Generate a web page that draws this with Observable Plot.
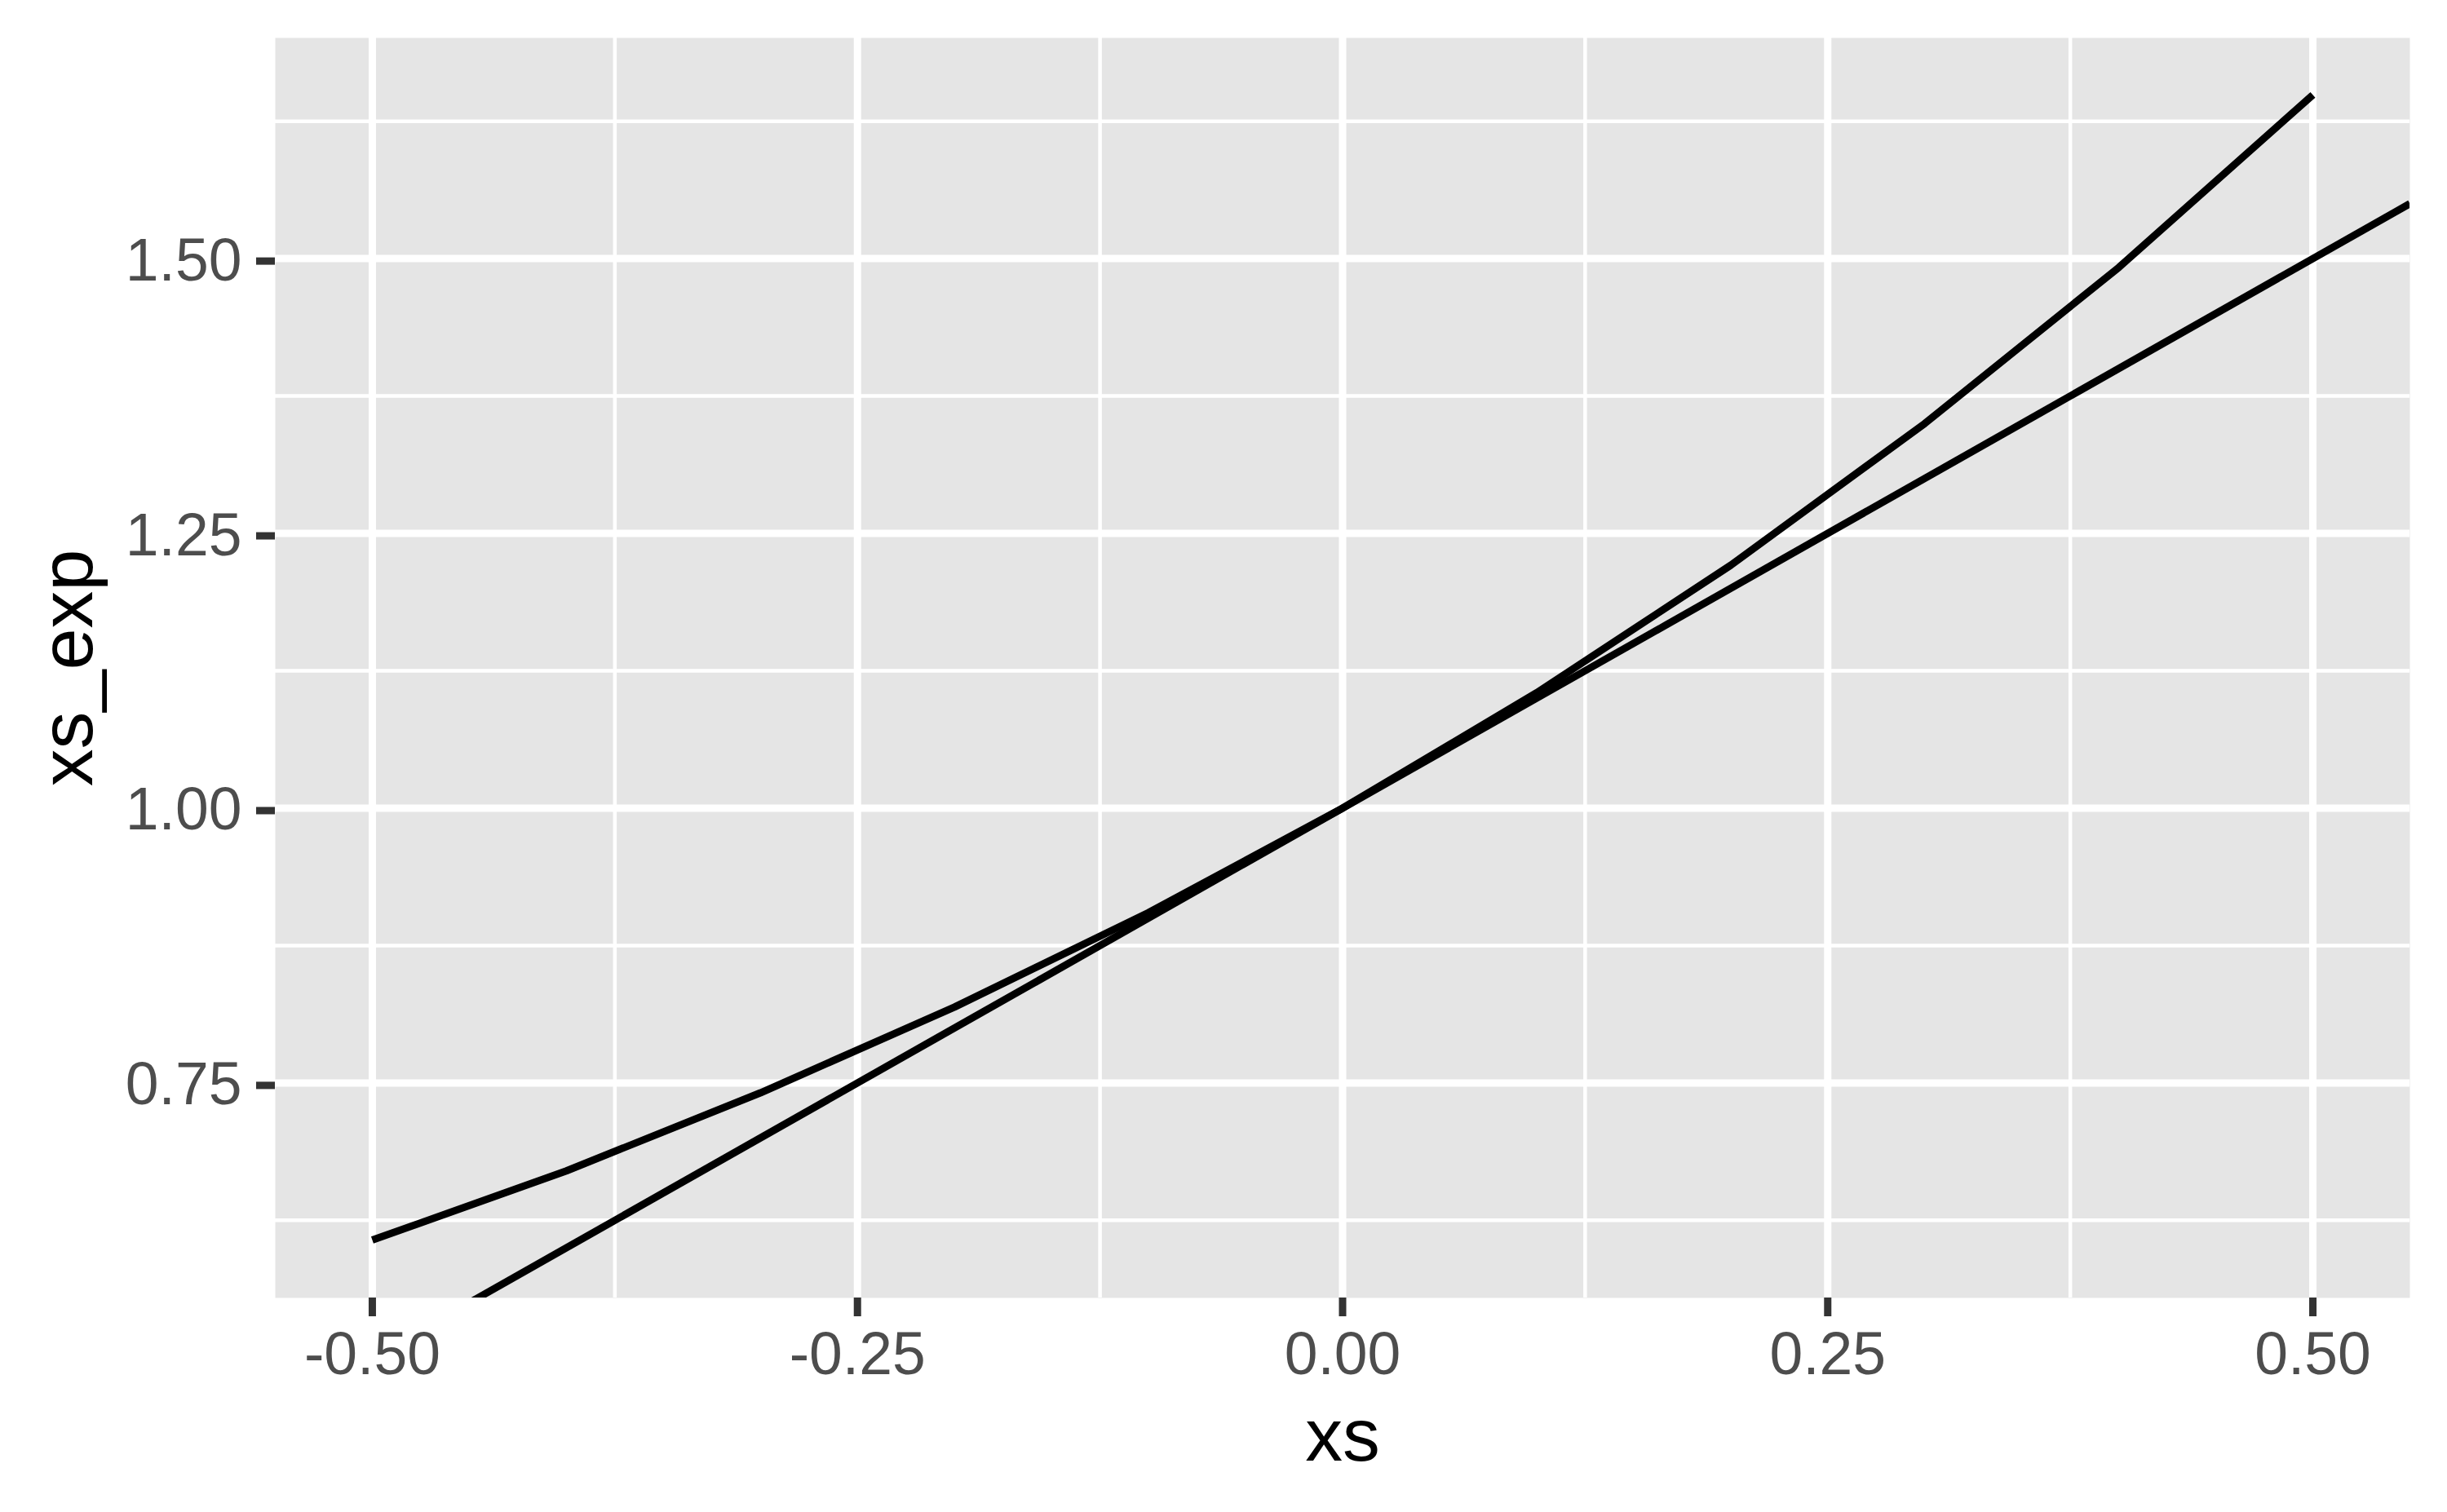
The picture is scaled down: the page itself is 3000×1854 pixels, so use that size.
<!DOCTYPE html>
<html>
<head>
<meta charset="utf-8">
<script src="https://cdn.jsdelivr.net/npm/d3@7"></script>
<script src="https://cdn.jsdelivr.net/npm/@observablehq/plot@0.6"></script>
<style>
  html, body { margin: 0; padding: 0; background: #ffffff; }
  #chart svg { display: block; }
</style>
</head>
<body>
<div id="chart"></div>
<script>
// data
const xs = [-0.5, -0.4, -0.3, -0.2, -0.1, 0.0, 0.1, 0.2, 0.3, 0.4, 0.5];
const xs_exp = [0.607, 0.670, 0.741, 0.819, 0.905, 1.000, 1.105, 1.221, 1.350, 1.492, 1.649];
const ablineIntercept = 1;
const ablineSlope = 1;

const xMajor = [-0.5, -0.25, 0, 0.25, 0.5];
const xMinor = [-0.375, -0.125, 0.125, 0.375];
const yMajor = [0.75, 1.0, 1.25, 1.5];
const yMinor = [0.625, 0.875, 1.125, 1.375, 1.625];

const xDomain = [-0.55, 0.55];
const yDomain = [0.5544, 1.7008];

const expData = xs.map((x, i) => ({x, y: xs_exp[i]}));
const ablineData = xDomain.map(x => ({x, y: ablineIntercept + ablineSlope * x}));

const fmt = d => d.toFixed(2);
const font = "'Liberation Sans', Arial, Helvetica, sans-serif";

const plot = Plot.plot({
  width: 3000,
  height: 1854,
  marginLeft: 337,
  marginRight: 46,
  marginTop: 46,
  marginBottom: 263,
  style: {fontFamily: font, background: "#ffffff"},
  x: {domain: xDomain},
  y: {domain: yDomain},
  marks: [
    Plot.frame({fill: "#E5E5E5", stroke: null}),
    Plot.gridX(xMinor, {stroke: "#ffffff", strokeOpacity: 1, strokeWidth: 4.5}),
    Plot.gridY(yMinor, {stroke: "#ffffff", strokeOpacity: 1, strokeWidth: 4.5}),
    Plot.gridX(xMajor, {stroke: "#ffffff", strokeOpacity: 1, strokeWidth: 9}),
    Plot.gridY(yMajor, {stroke: "#ffffff", strokeOpacity: 1, strokeWidth: 9}),
    Plot.line(ablineData, {x: "x", y: "y", stroke: "#000000", strokeWidth: 9, strokeLinecap: "butt", clip: true}),
    Plot.line(expData, {x: "x", y: "y", stroke: "#000000", strokeWidth: 9, strokeLinecap: "butt", strokeLinejoin: "round", clip: true}),
    Plot.axisX(xMajor, {tickSize: 23, tickPadding: 18, tickFormat: fmt, fontSize: 73.3, fill: "#4D4D4D", stroke: "#333333", strokeWidth: 9, label: null}),
    Plot.axisY(yMajor, {tickSize: 23, tickPadding: 18, tickFormat: fmt, fontSize: 73.3, fill: "#4D4D4D", stroke: "#333333", strokeWidth: 9, label: null, dy: 3}),
    Plot.text(["xs"], {frameAnchor: "bottom", dy: 199, fontSize: 91.7, fill: "#000000", lineAnchor: "bottom", textAnchor: "middle"}),
    Plot.text(["xs_exp"], {frameAnchor: "left", dx: -254, rotate: -90, fontSize: 91.7, fill: "#000000", textAnchor: "middle", lineAnchor: "middle"})
  ]
});
document.getElementById("chart").appendChild(plot);
</script>
</body>
</html>
